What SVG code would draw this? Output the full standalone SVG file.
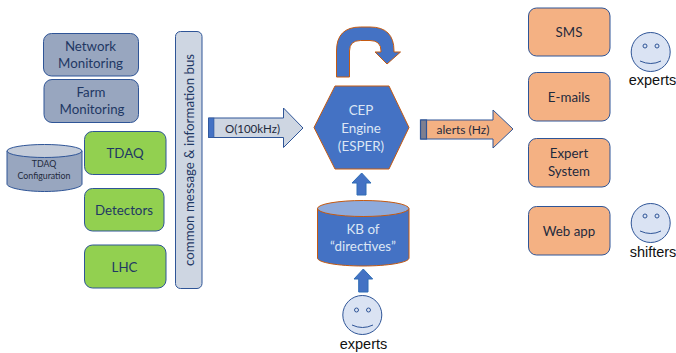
<svg xmlns="http://www.w3.org/2000/svg" width="676" height="353" viewBox="0 0 676 353">
<style>
text{font-family:Lato,"Liberation Sans",sans-serif;text-anchor:middle}
.g{fill:#98a6bf;stroke:#2f5597;stroke-width:1}
.t{fill:#92d050;stroke:#2f5597;stroke-width:1}
.o{fill:#f4b183;stroke:#2f5597;stroke-width:1}
.n{fill:#1f3864;font-size:13.300px}
.d{fill:#1f2a3d;font-size:13.300px}
.w{fill:#dce6f4;font-size:13.400px}
.b{fill:#4472c4;stroke:#2f6db5;stroke-width:1}
.r{fill:#4472c4;stroke:#c55a11;stroke-width:1}
.f{fill:#dae3f3;stroke:#2f5597;stroke-width:1}
.a{font-family:"Liberation Sans",sans-serif;font-size:14.500px;fill:#111}
.e{fill:none;stroke:#2f5597;stroke-width:1}
</style>
<g id="connectors">
<g id="arrow-bus-cep">
<path d="M208.500 118H283.500V108L303 128L283.500 147.500V137.500H208.500Z" fill="#ced6e2" stroke="#2f5597"/>
<rect x="208.500" y="118" width="5.500" height="19.500" fill="#4472c4" stroke="#2f5597" stroke-width=".6"/>
<text x="252.500" y="132.500" font-size="11.500" fill="#1f2a3d">O(100kHz)</text>
</g>
<g id="arrow-cep-alerts">
<path d="M420.500 120H493V110L513 129L493 148V139H420.500Z" fill="#f4b183" stroke="#2f5597"/>
<rect x="420.500" y="120" width="6" height="19" fill="#7f7f8f" stroke="#2f5597" stroke-width="1.200"/>
<text x="463" y="133.500" font-size="12" fill="#1f2a3d">alerts (Hz)</text>
</g>
<path id="arrow-loop" class="r" d="M336.500 77V51Q336.500 27 360.500 27H370Q394 27 394 51V52H400.500L387 64L375 52H381V51Q381 40.500 370 40.500H360.500Q349.500 40.500 349.500 51V77Z"/>
<path id="arrow-kb-cep" class="b" d="M361.700 173L371 183H366V195H357V183H352Z"/>
<path id="arrow-experts-kb" class="b" d="M363.300 269L372.700 279H368V292H358.700V279H354Z"/>
</g>
<g id="network-monitoring"><rect class="g" x="43.500" y="33.500" width="95" height="42.500" rx="8"/><text class="n" x="90.500" y="51">Network</text><text class="n" x="90.500" y="68">Monitoring</text></g>
<g id="farm-monitoring"><rect class="g" x="44" y="79.500" width="94.500" height="43" rx="8"/><text class="n" x="91" y="97">Farm</text><text class="n" x="92" y="114">Monitoring</text></g>
<g id="tdaq-configuration">
<path class="g" d="M7 151V184C7 188 25 191.500 44.500 191.500S82 188 82 184V151Z"/>
<ellipse cx="44.500" cy="151" rx="37.500" ry="6.500" fill="#c3cbd9" stroke="#2f5597"/>
<text x="44" y="167" font-size="8.800" fill="#1f2a3d">TDAQ</text><text x="44" y="179" font-size="8.800" fill="#1f2a3d">Configuration</text>
</g>
<g id="tdaq"><rect class="t" x="84.500" y="131.500" width="81.500" height="43" rx="8"/><text class="n" x="125" y="158">TDAQ</text></g>
<g id="detectors"><rect class="t" x="84.500" y="188.500" width="79.500" height="42.500" rx="8"/><text class="n" x="124" y="215">Detectors</text></g>
<g id="lhc"><rect class="t" x="84.500" y="245" width="81.500" height="43" rx="8"/><text class="n" x="124.500" y="272">LHC</text></g>
<g id="bus"><rect x="175.500" y="31.500" width="26.500" height="257" rx="5" fill="#ced6e2" stroke="#2f5597"/><text class="n" transform="translate(193.500 160) rotate(-90)">common message &amp; information bus</text></g>
<g id="cep-engine"><path class="r" d="M335 86H389L409 127.500L389 169H335L314 127.500Z"/><text class="w" x="361" y="115">CEP</text><text class="w" x="361" y="133">Engine</text><text class="w" x="361" y="151">(ESPER)</text></g>
<g id="kb"><path class="r" d="M317.500 208.500V258C317.500 262.500 338 266 363 266S409 262.500 409 258V208.500Z"/><ellipse cx="363.200" cy="208.500" rx="45.700" ry="8" fill="#8eaadb" stroke="#c55a11"/><text class="w" x="363" y="233.500">KB of</text><text class="w" x="363" y="250.500">“directives”</text></g>
<g id="face-experts-bottom"><circle class="f" cx="362.300" cy="315" r="19.500"/><circle class="e" cx="356.500" cy="310" r="2"/><circle class="e" cx="368.500" cy="310" r="2"/><path class="e" d="M352 325Q362.500 330 373 325"/><text class="a" x="363.500" y="349">experts</text></g>
<g id="sms"><rect class="o" x="528.500" y="8" width="81.500" height="48" rx="8"/><text class="d" x="569" y="37">SMS</text></g>
<g id="emails"><rect class="o" x="528.500" y="72.500" width="81.500" height="48.500" rx="8"/><text class="d" x="569" y="102">E-mails</text></g>
<g id="expert-system"><rect class="o" x="528.500" y="138.500" width="81.500" height="48.500" rx="8"/><text class="d" x="569" y="158">Expert</text><text class="d" x="569" y="176">System</text></g>
<g id="web-app"><rect class="o" x="528.500" y="206.500" width="81.500" height="48.500" rx="8"/><text class="d" x="569" y="236">Web app</text></g>
<g id="face-experts-right"><circle class="f" cx="650.700" cy="52" r="19.500"/><circle class="e" cx="645" cy="46" r="2"/><circle class="e" cx="657" cy="46" r="2"/><path class="e" d="M640 61Q651 66 661 61"/><text class="a" x="652.500" y="85">experts</text></g>
<g id="face-shifters"><circle class="f" cx="650.700" cy="223" r="19.500"/><circle class="e" cx="645" cy="216" r="2"/><circle class="e" cx="657" cy="216" r="2"/><path class="e" d="M640 231Q651 236 661 231"/><text class="a" x="653" y="257">shifters</text></g>
</svg>
